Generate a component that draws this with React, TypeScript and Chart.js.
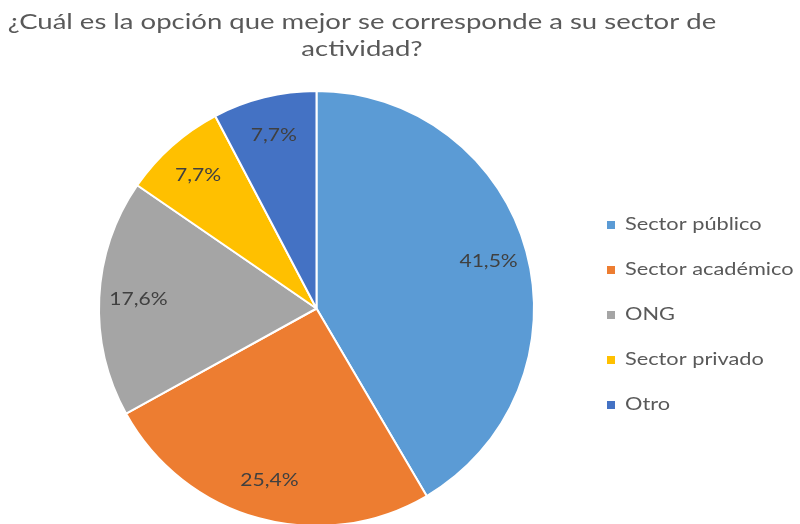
import React, { useEffect, useRef } from "react";
import { Chart, registerables } from "chart.js";

Chart.register(...registerables);

const titleLines = ["¿Cuál es la opción que mejor se corresponde a su sector de", "actividad?"];
const categories = ["Sector público", "Sector académico", "ONG", "Sector privado", "Otro"];
const values = [41.5, 25.4, 17.6, 7.7, 7.7];
const valueLabels = ["41,5%", "25,4%", "17,6%", "7,7%", "7,7%"];
const colors = ["#5B9BD5", "#ED7D31", "#A5A5A5", "#FFC000", "#4472C4"];

const FONT = "Lato, 'Open Sans', sans-serif";

function drawText(ctx: CanvasRenderingContext2D, text: string, x: number, y: number, align: CanvasTextAlign, sx: number) {
  ctx.save();
  ctx.translate(x, y);
  ctx.scale(sx, 1);
  ctx.textAlign = align;
  ctx.fillText(text, 0, 0);
  ctx.restore();
}

const decorPlugin = {
  id: "decor",
  afterDraw(chart: any) {
    const ctx: CanvasRenderingContext2D = chart.ctx;
    ctx.save();
    // title
    ctx.fillStyle = "#595959";
    ctx.font = `21px ${FONT}`;
    ctx.textBaseline = "alphabetic";
    drawText(ctx, titleLines[0], 362, 29, "center", 1.31);
    drawText(ctx, titleLines[1], 362, 56, "center", 1.31);

    // data labels
    const meta = chart.getDatasetMeta(0);
    ctx.font = `17px ${FONT}`;
    ctx.fillStyle = "#404040";
    ctx.textBaseline = "middle";
    meta.data.forEach((arc: any, i: number) => {
      const p = arc.getProps(["x", "y", "startAngle", "endAngle", "outerRadius"], true);
      const mid = (p.startAngle + p.endAngle) / 2;
      const r = p.outerRadius * 0.82;
      drawText(ctx, valueLabels[i], p.x + Math.cos(mid) * r, p.y + Math.sin(mid) * r, "center", 1.24);
    });

    // legend
    ctx.font = `17px ${FONT}`;
    ctx.textBaseline = "middle";
    categories.forEach((c, i) => {
      const y = 225 + i * 45;
      ctx.fillStyle = colors[i];
      ctx.fillRect(607, y - 4, 8, 8);
      ctx.fillStyle = "#595959";
      drawText(ctx, c, 625, y, "left", 1.28);
    });
    ctx.restore();
  },
};

export default function App() {
  const ref = useRef<HTMLCanvasElement>(null);
  useEffect(() => {
    if (!ref.current) return;
    const chart = new Chart(ref.current, {
      type: "pie",
      data: {
        labels: categories,
        datasets: [
          {
            data: values,
            backgroundColor: colors,
            borderColor: "#ffffff",
            borderWidth: 2,
          },
        ],
      },
      options: {
        responsive: false,
        animation: false,
        layout: { padding: { left: 98, right: 265, top: 90, bottom: 13 } },
        plugins: {
          legend: { display: false },
          title: { display: false },
          tooltip: { enabled: false },
        },
      },
      plugins: [decorPlugin],
    });
    return () => chart.destroy();
  }, []);
  return (
    <div style={{ position: "absolute", left: 0, top: 0, width: 800, height: 524, overflow: "hidden", background: "#fff" }}>
      <canvas ref={ref} width={800} height={540} style={{ display: "block" }} />
    </div>
  );
}
